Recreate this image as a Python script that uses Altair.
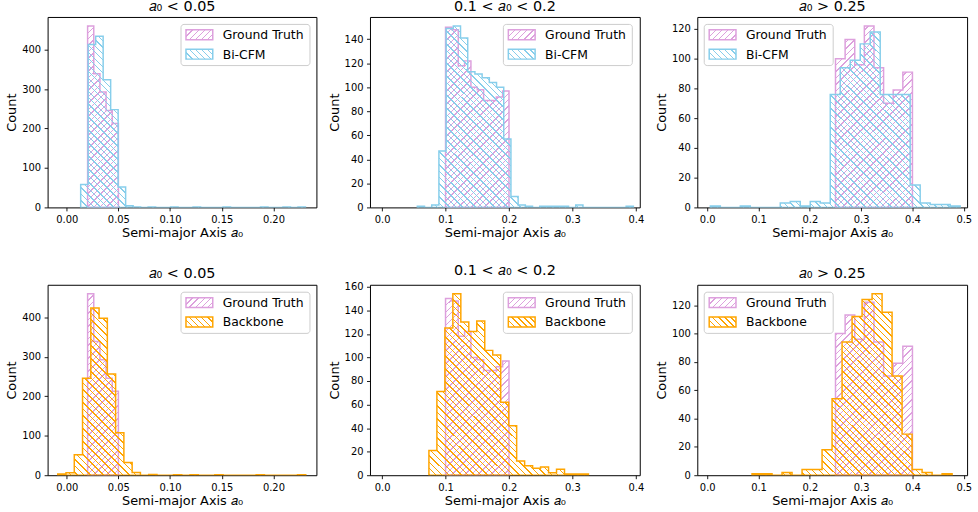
import altair as alt
import numpy as np
import pandas as pd

# ---------------- data: histogram counts and bin ranges ----------------
# Ground truth a0 distributions (shared by the top and bottom rows)
gt_small_counts = [460, 339, 293, 246, 213]
gt_small_range = (0.0202, 0.05)
gt_mid_counts = [150, 148, 118, 122, 100, 98, 89, 89, 92, 97]
gt_mid_range = (0.1, 0.2)
gt_large_counts = [100, 113, 96, 122, 94, 70, 79, 91]
gt_large_range = (0.25, 0.4)

# Bi-CFM samples
bicfm_small_counts = [58, 413, 434, 324, 248, 52, 4, 1, 0, 1, 0, 0, 1, 0, 0,
                      1, 0, 0, 0, 1, 0, 0, 0, 0, 1, 0, 0, 1, 0, 1]
bicfm_small_range = (0.0135, 0.2310)
bicfm_mid_counts = [1, 0, 2, 47, 149, 151, 141, 113, 111, 108, 104, 100, 57, 9, 2,
                    1, 0, 1, 1, 1, 1, 0, 2, 0, 0, 0, 0, 0, 0, 1]
bicfm_mid_range = (0.0555, 0.396)
bicfm_large_counts = [1, 0, 0, 1, 0, 0, 0, 3, 4, 1, 4, 3, 76, 94, 99, 110, 118,
                      76, 76, 76, 15, 3, 2, 2, 1]
bicfm_large_range = (0.006, 0.493)

# Backbone samples
backbone_small_counts = [3, 6, 52, 246, 424, 398, 257, 108, 32, 7, 0, 2, 0, 0, 1,
                         0, 1, 0, 0, 1, 0, 0, 0, 0, 1, 0, 0, 0, 0, 1]
backbone_small_range = (-0.0087, 0.2313)
backbone_mid_counts = [21, 71, 125, 154, 130, 122, 131, 106, 102, 62, 42, 12, 8, 6,
                       7, 2, 5, 1, 1, 1]
backbone_mid_range = (0.0738, 0.3252)
backbone_large_counts = [1, 1, 0, 2, 0, 4, 4, 18, 54, 94, 112, 124, 128, 115, 70,
                         29, 4, 2, 0, 1]
backbone_large_range = (0.0873, 0.4773)

titles = ["𝑎₀ < 0.05", "0.1 < 𝑎₀ < 0.2", "𝑎₀ > 0.25"]
x_title = "Semi-major Axis 𝑎₀"
x_ticks = [[0.0, 0.05, 0.10, 0.15, 0.20],
           [0.0, 0.1, 0.2, 0.3, 0.4],
           [0.0, 0.1, 0.2, 0.3, 0.4, 0.5]]
x_formats = [".2f", ".1f", ".1f"]
y_ticks_top = [[0, 100, 200, 300, 400], [0, 20, 40, 60, 80, 100, 120, 140],
               [0, 20, 40, 60, 80, 100, 120]]
y_ticks_bottom = [[0, 100, 200, 300, 400], [0, 20, 40, 60, 80, 100, 120, 140, 160],
                  [0, 20, 40, 60, 80, 100, 120]]

# ---------------- styling ----------------
FONT = "DejaVu Sans"
PINK = "#DDA0DD"
BLUE = "#87CEEB"
ORANGE = "#FFA500"
W, H = 271, 192
X_DOMAINS = [(-0.0185, 0.2416), (-0.0191, 0.4061), (-0.0194, 0.5065)]


def hatch(color, w, h, direction, period=6.5, lw=1.0):
    """Diagonal hatch as a striped linear gradient over a w x h box."""
    n = max(1, int(round((w + h) / period)))
    k = (w + h) / (w * w + h * h)
    f = min(0.5, lw * np.sqrt(2) / ((w + h) / n))
    clear = "rgba(255,255,255,0)"
    stops = []
    for i in range(n):
        a, b, c = i / n, (i + f) / n, (i + 1) / n
        stops += [alt.GradientStop(color=color, offset=a),
                  alt.GradientStop(color=color, offset=b),
                  alt.GradientStop(color=clear, offset=b),
                  alt.GradientStop(color=clear, offset=c)]
    if direction == "/":
        return alt.LinearGradient(gradient="linear", stops=stops,
                                  x1=0, y1=0, x2=k * w, y2=k * h)
    return alt.LinearGradient(gradient="linear", stops=stops,
                              x1=0, y1=1, x2=k * w, y2=1 - k * h)


def step_area(counts, rng, color, direction, xdom, ymax, x_axis, y_axis, xscale, yscale):
    edges = np.linspace(rng[0], rng[1], len(counts) + 1)
    df = pd.DataFrame({"a0": edges, "count": list(counts) + [counts[-1]]})
    w = (rng[1] - rng[0]) * W / (xdom[1] - xdom[0])
    h = max(counts) * H / ymax
    return alt.Chart(df).mark_area(
        interpolate="step-after", fill=hatch(color, w, h, direction),
        stroke=color, strokeWidth=1.5, opacity=1, clip=True
    ).encode(
        x=alt.X("a0:Q", scale=xscale, axis=x_axis),
        y=alt.Y("count:Q", scale=yscale, axis=y_axis),
    )


def legend(labels, colors, dirs, left_side):
    one = pd.DataFrame({"k": [0]})
    fw, fh = 130, 41.5
    x0 = 7 if left_side else W - 6.5 - fw
    y0 = 7.5
    parts = [alt.Chart(one).mark_rect(
        fill="white", fillOpacity=0.8, stroke="#cccccc", strokeWidth=1, cornerRadius=3
    ).encode(x=alt.value(x0), x2=alt.value(x0 + fw), y=alt.value(y0), y2=alt.value(y0 + fh))]
    for i, (lab, col, d) in enumerate(zip(labels, colors, dirs)):
        sy = y0 + 5.5 + i * 19.5
        parts.append(alt.Chart(one).mark_rect(
            fill=hatch(col, 27, 10, d, period=6.0), stroke=col, strokeWidth=1.5
        ).encode(x=alt.value(x0 + 5), x2=alt.value(x0 + 32),
                 y=alt.value(sy), y2=alt.value(sy + 10)))
        parts.append(alt.Chart(one).mark_text(
            align="left", baseline="middle", font=FONT, fontSize=12.5, color="black"
        ).encode(x=alt.value(x0 + 42), y=alt.value(sy + 5.5), text=alt.value(lab)))
    return parts


def panel(col, gt_counts, gt_rng, m_counts, m_rng, m_color, m_name, yticks, left_legend):
    xdom = X_DOMAINS[col]
    ymax = 1.05 * max(max(gt_counts), max(m_counts))
    xscale = alt.Scale(domain=list(xdom), nice=False, zero=False)
    yscale = alt.Scale(domain=[0, ymax], nice=False, zero=True)
    x_axis = alt.Axis(title=x_title, values=x_ticks[col], format=x_formats[col])
    y_axis = alt.Axis(title="Count", values=yticks)
    layers = [
        step_area(gt_counts, gt_rng, PINK, "/", xdom, ymax, x_axis, y_axis, xscale, yscale),
        step_area(m_counts, m_rng, m_color, "\\", xdom, ymax, x_axis, y_axis, xscale, yscale),
    ] + legend(["Ground Truth", m_name], [PINK, m_color], ["/", "\\"], left_legend)
    return alt.layer(*layers).properties(
        width=W + (1 if col else 0), height=H,
        title=alt.TitleParams(titles[col], font=FONT, fontSize=14.5, fontWeight="normal",
                              color="black", offset=3),
    )


top = alt.hconcat(
    panel(0, gt_small_counts, gt_small_range, bicfm_small_counts, bicfm_small_range, BLUE, "Bi-CFM", y_ticks_top[0], False),
    panel(1, gt_mid_counts, gt_mid_range, bicfm_mid_counts, bicfm_mid_range, BLUE, "Bi-CFM", y_ticks_top[1], False),
    panel(2, gt_large_counts, gt_large_range, bicfm_large_counts, bicfm_large_range, BLUE, "Bi-CFM", y_ticks_top[2], True),
    spacing=10,
)
bottom = alt.hconcat(
    panel(0, gt_small_counts, gt_small_range, backbone_small_counts, backbone_small_range, ORANGE, "Backbone", y_ticks_bottom[0], False),
    panel(1, gt_mid_counts, gt_mid_range, backbone_mid_counts, backbone_mid_range, ORANGE, "Backbone", y_ticks_bottom[1], False),
    panel(2, gt_large_counts, gt_large_range, backbone_large_counts, backbone_large_range, ORANGE, "Backbone", y_ticks_bottom[2], True),
    spacing=10,
)

chart = alt.vconcat(top, bottom, spacing=23).properties(
    padding={"left": 5, "top": -4, "right": 5, "bottom": 5},
    background="white",
).configure_view(
    stroke="black", strokeWidth=1
).configure_axis(
    domain=False, grid=False, ticks=True, tickColor="black", tickSize=3.5, tickWidth=0.9,
    labelFont=FONT, labelFontSize=10, labelColor="black", labelPadding=3.5,
    titleFont=FONT, titleFontSize=13, titleFontWeight="normal", titleColor="black",
).configure_axisY(
    minExtent=24, maxExtent=24, titlePadding=5,
).configure_axisX(
    titlePadding=2.5,
)

chart.save("out.html", embed_options={"renderer": "svg", "actions": False})
